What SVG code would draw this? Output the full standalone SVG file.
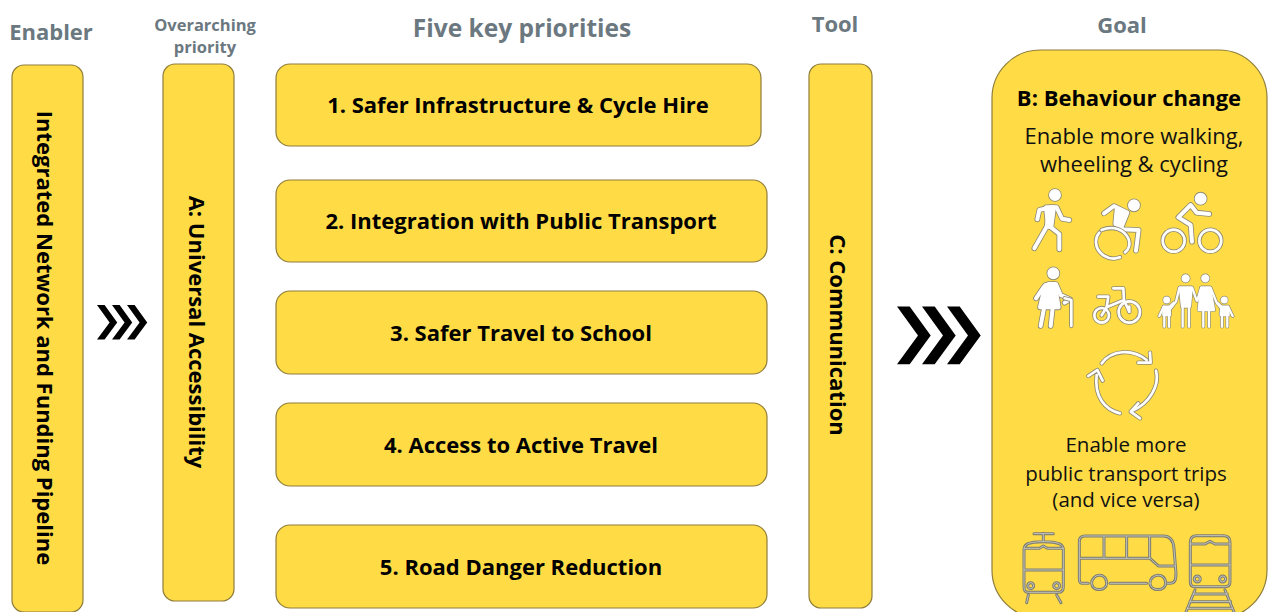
<svg xmlns="http://www.w3.org/2000/svg" width="1268" height="612" viewBox="0 0 1268 612">
<style>
text{font-family:"Open Sans","Noto Sans","Liberation Sans",sans-serif}
.box{fill:#ffdc45;stroke:#8f7d3a;stroke-width:1.2}
.t{font-size:22px;font-weight:700;fill:#000;text-anchor:middle}
.h{font-size:22px;font-weight:700;fill:#6b7880;text-anchor:middle}
.hs{font-size:16.500px;font-weight:700;fill:#6b7880;text-anchor:middle}
.b{font-size:20.500px;fill:#111;text-anchor:middle}
.b2{font-size:22px;fill:#111;text-anchor:middle}
.halo{stroke:#8d8a72;fill:#8d8a72;stroke-width:17;stroke-linecap:round;stroke-linejoin:round}
.core{stroke:#fff;fill:#fff;stroke-width:12;stroke-linecap:round;stroke-linejoin:round}
.halo1{stroke:#8d8a72;fill:#8d8a72;stroke-width:11;stroke-linecap:round;stroke-linejoin:round}
.core1{stroke:#fff;fill:#fff;stroke-width:7;stroke-linecap:round;stroke-linejoin:round}
.halo2{stroke:#8d8a72;fill:none;stroke-width:13;stroke-linecap:round;stroke-linejoin:round}
.core2{stroke:#fff;fill:none;stroke-width:8;stroke-linecap:round;stroke-linejoin:round}
.halo3{stroke:#7d7d70;fill:none;stroke-width:9;stroke-linecap:round;stroke-linejoin:round}
.core3{stroke:#fff;fill:none;stroke-width:3;stroke-linecap:round;stroke-linejoin:round;opacity:.55}
</style>
<defs>
<path id="chev" d="M0 0H12.700L33.700 29L12.700 57.700H0L21 29Z" fill="#000"/>
<g id="people">
<circle cx="165" cy="75" r="12"/>
<path d="M112 148L118 120L150 112L140 170L103 235M150 170L178 192L178 238M150 112L170 112L186 146L208 150" fill="none"/>
<path d="M138 112H162L154 170H144Z"/>
<circle cx="402" cy="106" r="12"/>
<path d="M312 130L342 108L382 128L362 178L416 180L408 242" fill="none"/>
<path d="M350 118L378 130L362 172L346 162Z"/>
<circle cx="602" cy="86" r="12"/>
<path d="M628 132L590 128L572 105L535 142L572 165L576 215" fill="none"/>
<circle cx="160" cy="310" r="12"/>
<path d="M145 342L168 342L182 375L210 388L194 398M132 350L108 385M132 415L122 468M158 415L152 468" fill="none"/>
<path d="M136 345H165L176 412H120Z"/>
</g>
<g id="family">
<circle cx="557" cy="325" r="9"/><circle cx="616" cy="325" r="9"/>
<circle cx="500" cy="390" r="7"/><circle cx="673" cy="390" r="7"/>
<path d="M540 352H575L570 410H546Z"/>
<path d="M548 405V470M567 405V470M538 354L528 395L507 422M577 354L590 392" fill="none"/>
<path d="M604 352H630L642 420H596Z"/>
<path d="M610 420V470M627 420V470M603 354L592 392M632 354L650 398L668 420" fill="none"/>
<path d="M491 410H509L510 435H490Z"/>
<path d="M493 435V470M507 435V470M491 410L478 438M509 410L522 398" fill="none"/>
<path d="M664 410H684L686 435H662Z"/>
<path d="M666 435V470M682 435V470M684 410L698 438M664 410L654 400" fill="none"/>
</g>
<g id="wheels">
<path d="M305 180C340 165 375 180 386 208C392 225 385 240 375 247M360 262C325 275 290 250 288 218C287 205 292 195 298 188" fill="none"/>
<circle cx="521" cy="212" r="33" fill="none"/><circle cx="631" cy="212" r="33" fill="none"/>
<path d="M214 392V468M194 385L214 390" fill="none"/>
<circle cx="305" cy="436" r="22" fill="none"/><circle cx="388" cy="426" r="32" fill="none"/>
<path d="M305 436L320 412L372 390L388 426M340 355H370L372 390M295 380H325L320 412M388 426V410" fill="none"/>
</g>
<g id="cycle">
<path d="M305 70C335 30 395 25 440 60M415 68L452 68L450 38" fill="none"/>
<path d="M468 92C480 135 450 190 395 213M420 235L392 215L415 190" fill="none"/>
<path d="M360 220C315 210 282 170 290 105M265 108L292 90L308 122" fill="none"/>
</g>
<g id="transit">
<path d="M130 580V605M102 581H160M72 630C72 615 80 605 130 605C180 605 190 615 190 630V740C190 752 185 757 175 757H85C75 757 72 752 72 740ZM72 625H118L130 618L142 625H190M72 690H190M85 765L80 788M170 765L183 788"/>
<circle cx="92" cy="737" r="9"/><circle cx="170" cy="737" r="9"/>
<path d="M265 730H245C240 730 238 725 238 715V605C238 592 245 588 255 588H490C510 588 520 600 522 625L528 700C528 720 525 730 510 730H502M330 730H440M275 730C275 700 320 695 320 730C320 755 275 755 275 730ZM450 730C450 700 497 695 497 730C497 755 450 755 450 730ZM240 655H450L475 678H526M312 590V655M380 590V655M449 590V655"/>
<path d="M571 605C571 592 580 587 590 587H670C682 587 690 592 690 605V725C690 735 685 740 675 740H585C575 740 571 735 571 725ZM571 612H615L630 604L645 612H690M571 675H690M585 750L558 816M675 750L702 816M580 762H682M570 785H692M562 805H698"/>
<circle cx="592" cy="717" r="9"/><circle cx="668" cy="717" r="9"/>
</g>
</defs>

<g id="headings">
<text class="h" x="51" y="40">Enabler</text>
<text class="hs" x="205" y="31">Overarching</text>
<text class="hs" x="205" y="53">priority</text>
<text class="h" x="522" y="37" style="font-size:24.500px">Five key priorities</text>
<text class="h" x="835" y="32">Tool</text>
<text class="h" x="1122" y="33">Goal</text>
</g>

<g id="connectors">
<g id="chevrons-small" transform="translate(97 305) scale(.6 .6)">
<use href="#chev"/><use href="#chev" x="25"/><use href="#chev" x="50"/>
</g>
<g id="chevrons-large" transform="translate(897 306.500)">
<use href="#chev"/><use href="#chev" x="25"/><use href="#chev" x="50"/>
</g>
</g>

<g id="enabler"><rect class="box" x="12" y="65" width="71" height="547" rx="12"/>
<text class="t" transform="translate(37 338) rotate(90)">Integrated Network and Funding Pipeline</text></g>
<g id="overarching"><rect class="box" x="163" y="64" width="71" height="537" rx="12"/>
<text class="t" transform="translate(189 332) rotate(90)">A: Universal Accessibility</text></g>
<g id="p1"><rect class="box" x="276" y="64" width="485" height="82" rx="14"/><text class="t" x="518" y="113">1. Safer Infrastructure &amp; Cycle Hire</text></g>
<g id="p2"><rect class="box" x="276" y="180" width="491" height="82" rx="14"/><text class="t" x="521" y="229">2. Integration with Public Transport</text></g>
<g id="p3"><rect class="box" x="276" y="291" width="491" height="83" rx="14"/><text class="t" x="521" y="341">3. Safer Travel to School</text></g>
<g id="p4"><rect class="box" x="276" y="403" width="491" height="83" rx="14"/><text class="t" x="521" y="453">4. Access to Active Travel</text></g>
<g id="p5"><rect class="box" x="276" y="525" width="491" height="83" rx="14"/><text class="t" x="521" y="575">5. Road Danger Reduction</text></g>
<g id="tool"><rect class="box" x="809" y="64" width="63" height="544" rx="12"/>
<text class="t" transform="translate(830 335) rotate(90)">C: Communication</text></g>
<g id="goal"><rect class="box" x="992" y="50" width="275" height="568" rx="48"/>
<text class="t" x="1129" y="106">B: Behaviour change</text>
<text class="b2" x="1134" y="144">Enable more walking,</text>
<text class="b2" x="1134" y="172">wheeling &amp; cycling</text>
<text class="b" x="1126" y="452">Enable more</text>
<text class="b" x="1126" y="481">public transport trips</text>
<text class="b" x="1126" y="507">(and vice versa)</text>
<g transform="translate(1000 170) scale(.3333)">
<use href="#people" class="halo"/><use href="#people" class="core"/>
<use href="#family" class="halo1"/><use href="#family" class="core1"/>
<use href="#wheels" class="halo2"/><use href="#wheels" class="core2"/>
</g>
<g transform="translate(1000 340) scale(.3333)">
<use href="#cycle" class="halo2"/><use href="#cycle" class="core2"/>
<g fill="none"><use href="#transit" class="halo3"/><use href="#transit" class="core3"/></g>
</g>
</g>
</svg>
